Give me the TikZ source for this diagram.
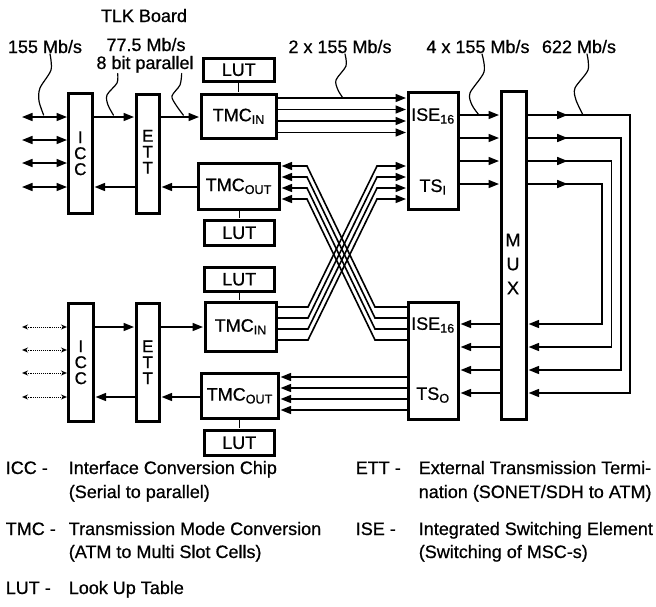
\documentclass[tikz,border=0pt]{standalone}
\usepackage{fontspec}
\setmainfont{Liberation Sans}[FakeBold=0.7]
\usetikzlibrary{arrows,arrows.meta,decorations.markings}

\begin{document}
\begin{tikzpicture}[x=1pt,y=-1pt,>={Triangle[length=10.5pt,width=8pt]},shorten >=1pt,line width=1.6pt,
                    font=\fontsize{18}{18}\selectfont]
  \tikzstyle{bloque}=[rectangle,draw=black,line width=2.6pt,inner sep=0pt,anchor=north west]
  \tikzstyle{texto}=[inner sep=0pt,anchor=base]
  \tikzstyle{vertical}=[align=center,inner sep=0pt,font=\fontsize{17}{16}\selectfont]
  \tikzstyle{rizo}=[line width=1.2pt,line cap=round]
  \tikzstyle{enlace}=[line width=1.1pt]
  \tikzstyle{punteado}=[line width=0.9pt,densely dotted,shorten >=0pt,
                        {Stealth[open,length=6pt,width=5pt]}-{Stealth[open,length=6pt,width=5pt]}]
  \tikzstyle{lazo}=[postaction={decorate},
                    decoration={markings,mark=at position 40pt with {\arrow{>}}}]
  \tikzstyle{leyenda}=[inner sep=0pt,anchor=base west,font=\fontsize{18}{18}\selectfont]
  \useasboundingbox (0,0) rectangle (656,606);
  %Rotulos
  \node[texto] (titulo) at (144,22) {TLK Board};
  \node[texto] (r155) at (45,53) {155 Mb/s};
  \node[texto] (r775) at (146,51) {77.5 Mb/s};
  \node[texto] (r8bit) at (145,69) {8 bit parallel};
  \node[texto] (r2x) at (340,53) {2 x 155 Mb/s};
  \node[texto] (r4x) at (478,53) {4 x 155 Mb/s};
  \node[texto] (r622) at (579,53) {622 Mb/s};
  %Placa superior
  \node[bloque,minimum width=24,minimum height=120] (icc1) at (67,92) {};
  \node[bloque,minimum width=23,minimum height=119] (ett1) at (135,93) {};
  \node[bloque,minimum width=71,minimum height=23] (lut1) at (202,57) {LUT};
  \node[bloque,minimum width=75,minimum height=44] (tmcin1) at (200,93) {TMC\textsubscript{IN}};
  \node[bloque,minimum width=81,minimum height=46] (tmcout1) at (197,162) {TMC\textsubscript{OUT}};
  \node[bloque,minimum width=70,minimum height=25] (lut2) at (203,219) {LUT};
  \node[vertical] (icc1t) at (icc1) {I\\C\\C};
  \node[vertical] (ett1t) at ([yshift=2pt]ett1.center) {E\\T\\T};
  %Placa inferior
  \node[bloque,minimum width=70,minimum height=24] (lut3) at (203,266) {LUT};
  \node[bloque,minimum width=71,minimum height=49] (tmcin2) at (204,301) {TMC\textsubscript{IN}};
  \node[bloque,minimum width=77,minimum height=45] (tmcout2) at (200,372) {TMC\textsubscript{OUT}};
  \node[bloque,minimum width=70,minimum height=25] (lut4) at (203,429) {LUT};
  \node[bloque,minimum width=25,minimum height=118] (icc2) at (67,302) {};
  \node[bloque,minimum width=23,minimum height=118] (ett2) at (135,302) {};
  \node[vertical] (icc2t) at (icc2) {I\\C\\C};
  \node[vertical] (ett2t) at (ett2) {E\\T\\T};
  %Conmutacion
  \node[bloque,minimum width=50,minimum height=117] (ise1) at (407,91) {};
  \node[bloque,minimum width=50,minimum height=117] (ise2) at (407,301) {};
  \node[bloque,minimum width=25,minimum height=328] (mux) at (500,90) {};
  \node (ise1a) at (433,116) {ISE\textsubscript{16}};
  \node (ise1b) at (433,187) {TS\textsubscript{I}};
  \node (ise2a) at (433,325) {ISE\textsubscript{16}};
  \node (ise2b) at (433,395) {TS\textsubscript{O}};
  \node[vertical,font=\fontsize{18}{24}\selectfont] (muxt) at (513,264) {M\\U\\X};

  %LUT
  \draw[enlace] (lut1.south) -- (lut1.south |- tmcin1.north);
  \draw[enlace] (tmcout1.south -| lut2.north) -- (lut2.north);
  \draw[enlace] (lut3.south) -- (lut3.south |- tmcin2.north);
  \draw[enlace] (tmcout2.south -| lut4.north) -- (lut4.north);

  %Lado izquierdo
  \foreach \y in {117,140,163,187} {
    \coordinate (ea\y) at (22,\y);
    \draw[<->,shorten >=0pt] (ea\y) -- (ea\y -| icc1.west);
  }
  \foreach \y in {327,350,373,397} {
    \coordinate (eb\y) at (22,\y);
    \draw[punteado] (eb\y) -- (eb\y -| icc2.west);
  }
  \draw[->] (icc1.east |- 0,117) -- (ett1.west |- 0,117);
  \draw[->] (ett1.east |- 0,117) -- (tmcin1.west |- 0,117);
  \draw[->] (tmcout1.west |- 0,187) -- (ett1.east |- 0,187);
  \draw[->] (ett1.west |- 0,187) -- (icc1.east |- 0,187);
  \draw[->] (icc2.east |- 0,327) -- (ett2.west |- 0,327);
  \draw[->] (ett2.east |- 0,327) -- (tmcin2.west |- 0,327);
  \draw[->] (tmcout2.west |- 0,397) -- (ett2.east |- 0,397);
  \draw[->] (ett2.west |- 0,397) -- (icc2.east |- 0,397);

  %TMC - ISE
  \foreach \i [evaluate=\i as \ya using 98+11.5*\i,
               evaluate=\i as \yb using 377+11*\i] in {0,...,3} {
    \draw[->] (tmcin1.east |- 0,\ya) -- (ise1.west |- 0,\ya);
    \draw[->] (ise2.west |- 0,\yb) -- (tmcout2.east |- 0,\yb);
  }
  \foreach \i [evaluate=\i as \ya using 166+11*\i,
               evaluate=\i as \yb using 307+11*\i] in {0,...,3} {
    \draw[->] (ise2.west |- 0,\yb) -- (375,\yb) -- (307,\ya) -- (tmcout1.east |- 0,\ya);
    \draw[->] (tmcin2.east |- 0,\yb) -- (308,\yb) -- (377,\ya) -- (ise1.west |- 0,\ya);
  }

  %ISE - MUX
  \foreach \i [evaluate=\i as \ya using 115+23*\i,
               evaluate=\i as \yb using 393-23*\i,
               evaluate=\i as \yc using 324+23*\i,
               evaluate=\i as \xa using 630-9.3*\i] in {0,...,3} {
    \draw[->] (ise1.east |- 0,\ya) -- (mux.west |- 0,\ya);
    \draw[->] (mux.west |- 0,\yc) -- (ise2.east |- 0,\yc);
    \draw[->,lazo] (mux.east |- 0,\ya) -- (\xa,\ya) -- (\xa,\yb) -- (mux.east |- 0,\yb);
  }

  %Rizos
  \coordinate (p155) at (44,116);
  \coordinate (p775) at (114,116);
  \coordinate (p8bit) at (184,116);
  \coordinate (p2x) at (343,98);
  \coordinate (p4x) at (479,115);
  \coordinate (p622) at (583,115);
  \draw[rizo] plot[smooth] coordinates {([xshift=5pt]r155.south) (51,70) (40,88) (39,101) (p155)};
  \draw[rizo] plot[smooth] coordinates {([xshift=22pt]r8bit.south west) (117,83) (107,95) (108,105) (p775)};
  \draw[rizo] plot[smooth] coordinates {([xshift=86pt]r8bit.south west) (180,85) (172,96) (176,105) (p8bit)};
  \draw[rizo] plot[smooth] coordinates {([xshift=5pt]r2x.south) (346,66) (336,80) (338,90) (p2x)};
  \draw[rizo] plot[smooth] coordinates {([xshift=4pt]r4x.south) (484,72) (470,93) (472,105) (p4x)};
  \draw[rizo] plot[smooth] coordinates {([xshift=8pt]r622.south) (588,70) (575,88) (576,100) (p622)};

  %Leyenda
  \node[leyenda] (l1) at (5,474) {ICC -};
  \node[leyenda] (l1a) at (68,474) {Interface Conversion Chip};
  \node[leyenda] (l1b) at (68,498) {(Serial to parallel)};
  \node[leyenda] (l2) at (5,535) {TMC -};
  \node[leyenda] (l2a) at (68,535) {Transmission Mode Conversion};
  \node[leyenda] (l2b) at (68,558) {(ATM to Multi Slot Cells)};
  \node[leyenda] (l3) at (5,594) {LUT -};
  \node[leyenda] (l3a) at (68,594) {Look Up Table};
  \node[leyenda] (l4) at (355,474) {ETT -};
  \node[leyenda] (l4a) at (418,474) {External Transmission Termi-};
  \node[leyenda] (l4b) at (418,498) {nation (SONET/SDH to ATM)};
  \node[leyenda] (l5) at (355,535) {ISE -};
  \node[leyenda] (l5a) at (418,535) {Integrated Switching Element};
  \node[leyenda] (l5b) at (418,558) {(Switching of MSC-s)};
\end{tikzpicture}
\end{document}
